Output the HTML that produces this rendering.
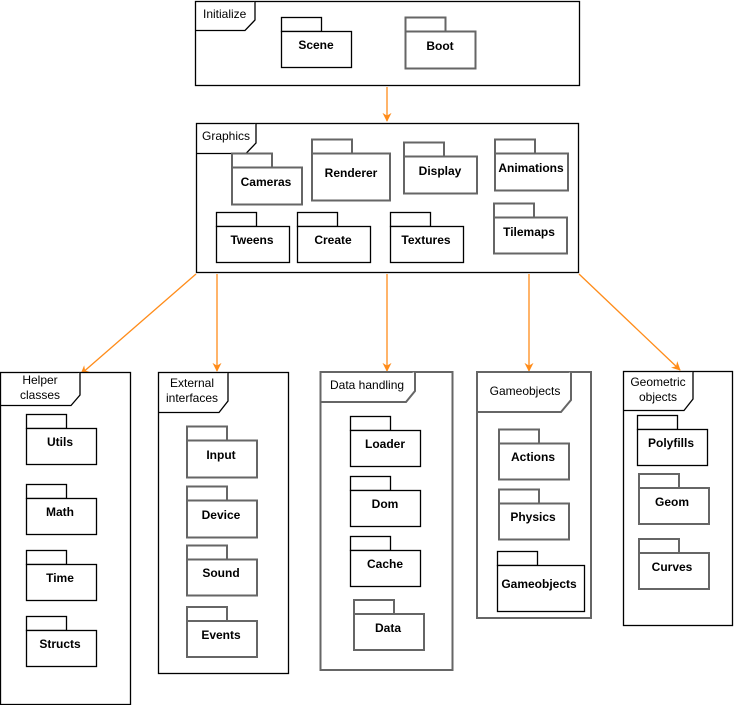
<!DOCTYPE html>
<html><head><meta charset="utf-8"><style>body{margin:0;background:#fff}svg{display:block}text{font-family:"Liberation Sans",Arial,sans-serif;font-size:12px}.b{font-weight:bold;text-anchor:middle}.f{fill:#fff;stroke:#000;stroke-width:1.3}.g{fill:#fff;stroke:#666;stroke-width:2}.a{stroke:#ff8c1a;stroke-width:1.3;fill:none}</style></head><body>
<svg width="734" height="705" viewBox="0 0 734 705" xmlns="http://www.w3.org/2000/svg">
<defs><marker id="m" viewBox="0 0 10 10" refX="9" refY="5" markerWidth="9" markerHeight="9" orient="auto-start-reverse" markerUnits="userSpaceOnUse"><path d="M0,0 L10,5 L0,10 L3,5 z" fill="#ff8c1a"/></marker></defs>

<!-- arrows -->
<line class="a" x1="387" y1="87" x2="387" y2="121" marker-end="url(#m)"/>
<line class="a" x1="196" y1="274" x2="81" y2="374" marker-end="url(#m)"/>
<line class="a" x1="217" y1="274" x2="217" y2="371" marker-end="url(#m)"/>
<line class="a" x1="387" y1="274" x2="387" y2="371" marker-end="url(#m)"/>
<line class="a" x1="529" y1="274" x2="529" y2="371" marker-end="url(#m)"/>
<line class="a" x1="579" y1="274" x2="680" y2="370" marker-end="url(#m)"/>

<!-- Initialize -->
<rect class="f" x="195.5" y="1.5" width="384" height="84"/>
<path class="f" d="M195.5,30.5 H245 L255,20 V1.5"/>
<text x="203" y="18">Initialize</text>
<g class="f"><rect x="281.5" y="17.5" width="40" height="14"/><rect x="281.5" y="31.5" width="70" height="36"/></g>
<text class="b" x="316" y="49">Scene</text>
<g class="g"><rect x="405.5" y="17.5" width="40" height="14"/><rect x="405.5" y="31.5" width="70" height="37"/></g>
<text class="b" x="440" y="50">Boot</text>

<!-- Graphics -->
<rect class="f" x="196.5" y="123.5" width="382" height="149"/>
<path class="f" d="M196.5,153.5 H246 L256,143 V123.5"/>
<text x="202" y="140">Graphics</text>
<g class="g"><rect x="232" y="153.5" width="40" height="14"/><rect x="232" y="167.5" width="70" height="37"/></g>
<text class="b" x="266" y="186">Cameras</text>
<g class="g"><rect x="312" y="139.5" width="40" height="14"/><rect x="312" y="153.5" width="78" height="47"/></g>
<text class="b" x="351" y="177">Renderer</text>
<g class="g"><rect x="404" y="142.5" width="40" height="14"/><rect x="404" y="156.5" width="73" height="37"/></g>
<text class="b" x="440" y="175">Display</text>
<g class="g"><rect x="495" y="139.5" width="40" height="14"/><rect x="495" y="153.5" width="73" height="37"/></g>
<text class="b" x="531" y="172">Animations</text>
<g class="f"><rect x="216.5" y="212.5" width="40" height="14"/><rect x="216.5" y="226.5" width="73" height="36"/></g>
<text class="b" x="252" y="244">Tweens</text>
<g class="f"><rect x="297.5" y="212.5" width="40" height="14"/><rect x="297.5" y="226.5" width="73" height="36"/></g>
<text class="b" x="333" y="244">Create</text>
<g class="f"><rect x="390.5" y="212.5" width="40" height="14"/><rect x="390.5" y="226.5" width="73" height="36"/></g>
<text class="b" x="426" y="244">Textures</text>
<g class="g"><rect x="494" y="203.5" width="40" height="14"/><rect x="494" y="217.5" width="73" height="36"/></g>
<text class="b" x="529" y="236">Tilemaps</text>

<!-- Helper classes -->
<rect class="f" x="0.5" y="372.5" width="130" height="332"/>
<path class="f" d="M0.5,405.5 H71 L80,395 V372.5"/>
<text x="40" y="384" text-anchor="middle">Helper</text>
<text x="40" y="399" text-anchor="middle">classes</text>
<g class="f"><rect x="26.5" y="414.5" width="40" height="14"/><rect x="26.5" y="428.5" width="70" height="36"/></g>
<text class="b" x="60" y="446">Utils</text>
<g class="f"><rect x="26.5" y="484.5" width="40" height="14"/><rect x="26.5" y="498.5" width="70" height="36"/></g>
<text class="b" x="60" y="516">Math</text>
<g class="f"><rect x="26.5" y="550.5" width="40" height="14"/><rect x="26.5" y="564.5" width="70" height="36"/></g>
<text class="b" x="60" y="582">Time</text>
<g class="f"><rect x="26.5" y="616.5" width="40" height="14"/><rect x="26.5" y="630.5" width="70" height="36"/></g>
<text class="b" x="60" y="648">Structs</text>

<!-- External interfaces -->
<rect class="f" x="158.5" y="372.5" width="130" height="301"/>
<path class="f" d="M158.5,412.5 H219 L228,401 V372.5"/>
<text x="192" y="387" text-anchor="middle">External</text>
<text x="192" y="402" text-anchor="middle">interfaces</text>
<g class="g"><rect x="187" y="426.5" width="40" height="14"/><rect x="187" y="440.5" width="70" height="37"/></g>
<text class="b" x="221" y="459">Input</text>
<g class="g"><rect x="187" y="486.5" width="40" height="14"/><rect x="187" y="500.5" width="70" height="37"/></g>
<text class="b" x="221" y="519">Device</text>
<g class="g"><rect x="187" y="545.5" width="40" height="14"/><rect x="187" y="559.5" width="70" height="36"/></g>
<text class="b" x="221" y="577">Sound</text>
<g class="g"><rect x="187" y="607" width="40" height="14"/><rect x="187" y="621" width="70" height="36"/></g>
<text class="b" x="221" y="639">Events</text>

<!-- Data handling -->
<rect class="g" x="320.5" y="372" width="132" height="298"/>
<path class="g" d="M320.5,402 H406 L415,391 V372"/>
<text x="330" y="389">Data handling</text>
<g class="f"><rect x="350.5" y="416.5" width="40" height="14"/><rect x="350.5" y="430.5" width="70" height="36"/></g>
<text class="b" x="385" y="448">Loader</text>
<g class="f"><rect x="350.5" y="476.5" width="40" height="14"/><rect x="350.5" y="490.5" width="70" height="36"/></g>
<text class="b" x="385" y="508">Dom</text>
<g class="f"><rect x="350.5" y="536.5" width="40" height="14"/><rect x="350.5" y="550.5" width="70" height="36"/></g>
<text class="b" x="385" y="568">Cache</text>
<g class="g"><rect x="354" y="600" width="40" height="14"/><rect x="354" y="614" width="70" height="36"/></g>
<text class="b" x="388" y="632">Data</text>

<!-- Gameobjects -->
<rect class="g" x="477" y="372" width="114" height="246"/>
<path class="g" d="M477,412 H561 L571,400 V372"/>
<text x="525" y="395" text-anchor="middle">Gameobjects</text>
<g class="g"><rect x="499" y="429.5" width="40" height="14"/><rect x="499" y="443.5" width="70" height="36"/></g>
<text class="b" x="533" y="461">Actions</text>
<g class="g"><rect x="499" y="489.5" width="40" height="14"/><rect x="499" y="503.5" width="70" height="36"/></g>
<text class="b" x="533" y="521">Physics</text>
<g class="f"><rect x="497.5" y="551.5" width="40" height="14"/><rect x="497.5" y="565.5" width="87" height="46"/></g>
<text class="b" x="539" y="588">Gameobjects</text>

<!-- Geometric objects -->
<rect class="f" x="623.5" y="371.5" width="109" height="254"/>
<path class="f" d="M623.5,410.5 H684 L693,399 V371.5"/>
<text x="658" y="386" text-anchor="middle">Geometric</text>
<text x="658" y="401" text-anchor="middle">objects</text>
<g class="f"><rect x="637.5" y="415.5" width="40" height="14"/><rect x="637.5" y="429.5" width="70" height="36"/></g>
<text class="b" x="671" y="447">Polyfills</text>
<g class="g"><rect x="639" y="474" width="40" height="14"/><rect x="639" y="488" width="70" height="36"/></g>
<text class="b" x="672" y="506">Geom</text>
<g class="g"><rect x="639" y="539" width="40" height="14"/><rect x="639" y="553" width="70" height="36"/></g>
<text class="b" x="672" y="571">Curves</text>
</svg>
</body></html>
